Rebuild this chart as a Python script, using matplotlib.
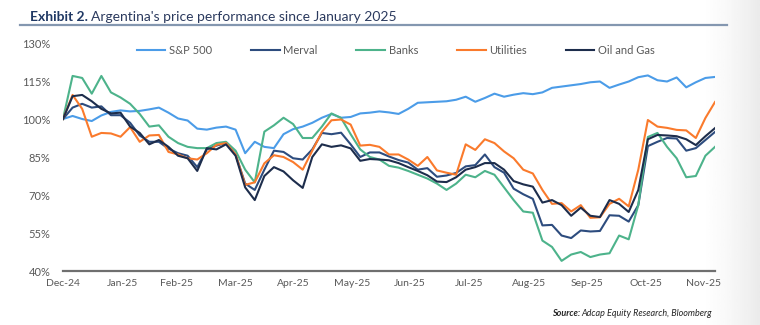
import matplotlib
matplotlib.use("Agg")
import matplotlib.pyplot as plt
import matplotlib.dates as mdates
from matplotlib.lines import Line2D
import numpy as np
import pandas as pd

plt.rcParams['font.family'] = ['Lato', 'DejaVu Sans']

# performance index, base 100 at 31-Dec-2024, one reading every 5 days
fechas = pd.date_range('2024-12-31', periods=69, freq='5D')

sp500 = [100, 101.2, 100, 99.2, 101.4, 102.8, 103.4, 103.0, 103.2, 103.8,
         104.5, 102.5, 100.2, 99.4, 96.2, 95.8, 96.6, 97.0, 95.8, 86.5,
         91.0, 89.0, 88.5, 94.0, 96.0, 97.0, 98.5, 100.5, 102.0, 100.5,
         100.8, 102.2, 102.5, 103.0, 102.6, 102.0, 104.0, 106.4, 106.6, 106.8,
         107.0, 107.6, 108.8, 106.8, 108.3, 110.0, 108.8, 109.6, 110.2, 109.8,
         110.5, 112.3, 112.8, 113.3, 113.8, 114.5, 114.8, 112.3, 113.6, 114.8,
         116.5, 117.2, 115.3, 114.8, 116.4, 112.5, 114.5, 116.2, 116.6]

merval = [100, 104.5, 106.0, 104.5, 105.0, 101.5, 101.5, 98.5, 93.5, 91.0,
          91.0, 88.3, 86.5, 85.5, 81.0, 88.0, 89.5, 90.5, 86.0, 74.5,
          72.0, 80.0, 87.5, 87.0, 84.5, 84.0, 88.0, 94.5, 94.0, 94.6,
          90.0, 85.0, 86.8, 86.8, 85.2, 83.8, 82.8, 80.0, 80.6, 77.2,
          77.7, 78.7, 81.3, 81.8, 86.0, 81.0, 78.8, 72.5, 70.3, 68.5,
          58.0, 58.2, 54.0, 53.0, 56.0, 55.6, 55.8, 62.0, 61.8, 59.5,
          66.0, 89.3, 91.0, 92.5, 92.3, 87.5, 88.5, 91.7, 94.9]

bancos = [100, 117.0, 116.2, 110.0, 117.0, 110.5, 108.5, 106.0, 102.0, 97.0,
          97.5, 93.0, 90.5, 89.0, 88.5, 88.5, 90.5, 91.0, 87.5, 80.0,
          75.0, 95.0, 97.5, 100.5, 98.0, 92.5, 92.5, 97.0, 102.2, 100.4,
          94.0, 88.0, 85.0, 84.0, 81.5, 80.8, 79.5, 78.0, 76.5, 74.5,
          72.0, 74.5, 78.0, 77.0, 79.5, 78.0, 73.0, 68.0, 63.5, 63.0,
          52.0, 49.5, 44.0, 46.5, 47.5, 45.5, 46.5, 47.0, 54.0, 52.5,
          66.0, 92.9, 94.5, 89.0, 84.5, 77.0, 77.5, 85.5, 89.0]

utilities = [100, 109.5, 104.0, 93.0, 94.5, 94.3, 93.0, 96.8, 91.0, 93.5,
             93.7, 87.0, 86.0, 84.5, 84.0, 86.5, 89.8, 90.5, 86.0, 74.0,
             75.0, 82.5, 85.7, 85.0, 83.0, 80.0, 87.5, 94.9, 99.5, 99.8,
             97.8, 89.5, 89.8, 89.0, 86.0, 86.0, 84.0, 81.5, 85.0, 79.7,
             78.8, 78.0, 90.0, 87.8, 92.0, 90.5, 87.2, 84.5, 80.0, 78.5,
             72.0, 66.5, 66.8, 63.5, 66.0, 61.0, 61.2, 66.5, 68.5, 65.5,
             80.0, 99.6, 97.0, 96.5, 95.7, 95.5, 92.5, 100.4, 106.7]

oil_gas = [100, 109.0, 109.5, 107.0, 104.0, 102.2, 102.5, 97.0, 94.5, 90.0,
           91.7, 89.0, 85.5, 84.5, 79.5, 88.5, 88.0, 90.0, 85.5, 73.0,
           68.0, 77.5, 81.0, 79.3, 75.8, 72.8, 85.0, 90.0, 89.0, 89.6,
           88.4, 83.5, 84.2, 84.0, 83.7, 82.6, 81.0, 79.5, 77.8, 75.3,
           75.1, 77.0, 80.0, 81.0, 82.6, 82.6, 80.0, 75.5, 74.2, 73.3,
           67.0, 68.0, 66.0, 61.8, 65.0, 61.8, 61.3, 68.0, 66.5, 63.3,
           72.0, 92.0, 93.7, 93.5, 93.2, 92.0, 89.7, 93.2, 96.4]

series = ['S&P 500', 'Merval', 'Banks', 'Utilities', 'Oil and Gas']
colores = ['#4B9CE8', '#2D4C7E', '#4DB38B', '#FA7A2C', '#1D2D4C']
valores_y = [40, 55, 70, 85, 100, 115, 130]
meses = pd.date_range('2024-12-31', periods=12, freq='ME')

fig = plt.figure(figsize=(7.6, 3.25), dpi=100)

# sombra gris suave en el borde derecho de la lamina
fondo = fig.add_axes([0, 0, 1, 1], zorder=-5)
grad = np.clip((np.linspace(0, 1, 400) - 0.92) / 0.08, 0, 1) ** 1.5
fondo.imshow(1 - 0.08 * grad[None, :], cmap='gray', vmin=0, vmax=1,
             aspect='auto', extent=[0, 1, 0, 1])
fondo.axis('off')

ax = fig.add_axes([63 / 760, 1 - 271 / 325, 652 / 760, 228 / 325])
ax.patch.set_alpha(0)

datos = [sp500, merval, bancos, utilities, oil_gas]
for nombre, valores, color in zip(series, datos, colores):
    ax.plot(fechas, valores, color=color, lw=1.5, label=nombre, solid_joinstyle='round')

ax.set_xlim(fechas[0], fechas[-1])
ax.set_ylim(40, 130)
ax.set_yticks(valores_y)
ax.set_yticklabels([f'{v}%' for v in valores_y])
ax.set_xticks(meses)
ax.xaxis.set_major_formatter(mdates.DateFormatter('%b-%y'))
ax.tick_params(axis='both', length=0, labelcolor='#595959')
ax.tick_params(axis='y', pad=9, labelsize=8)
ax.tick_params(axis='x', pad=6, labelsize=7.5)

for lado in ['top', 'right', 'left']:
    ax.spines[lado].set_visible(False)
ax.spines['bottom'].set_color('#6f6f6f')
ax.spines['bottom'].set_linewidth(1.6)

leg = ax.legend(loc='upper center', bbox_to_anchor=(0.51, 1.035), ncol=5,
                frameon=False, fontsize=8, handlelength=2.6,
                handletextpad=0.3, columnspacing=3.5)
for t in leg.get_texts():
    t.set_color('#595959')

# titulo en dos partes: negrita + normal
r = fig.canvas.get_renderer()
t1 = fig.text(30 / 760, 1 - 17 / 325, 'Exhibit 2.', fontsize=10, fontweight='bold',
              color='#1F3864', va='center')
ext = t1.get_window_extent(renderer=r)
fig.text(ext.x1 / fig.bbox.width + 0.004, 1 - 17 / 325,
         "Argentina's price performance since January 2025",
         fontsize=10, color='#2B3A5E', va='center')
fig.add_artist(Line2D([20 / 760, 727 / 760], [1 - 25 / 325, 1 - 25 / 325],
                     color='#8497B0', lw=1.6))

s1 = fig.text(712 / 760, 1 - 313 / 325, 'Adcap Equity Research, Bloomberg',
              fontsize=6.5, style='italic', color='#262626', ha='right', va='center')
ext2 = s1.get_window_extent(renderer=r)
fig.text(ext2.x0 / fig.bbox.width - 0.002, 1 - 313 / 325, 'Source:',
         fontsize=6.5, style='italic', fontweight='bold', color='#262626',
         ha='right', va='center')

fig.savefig('out.png', dpi=100)
